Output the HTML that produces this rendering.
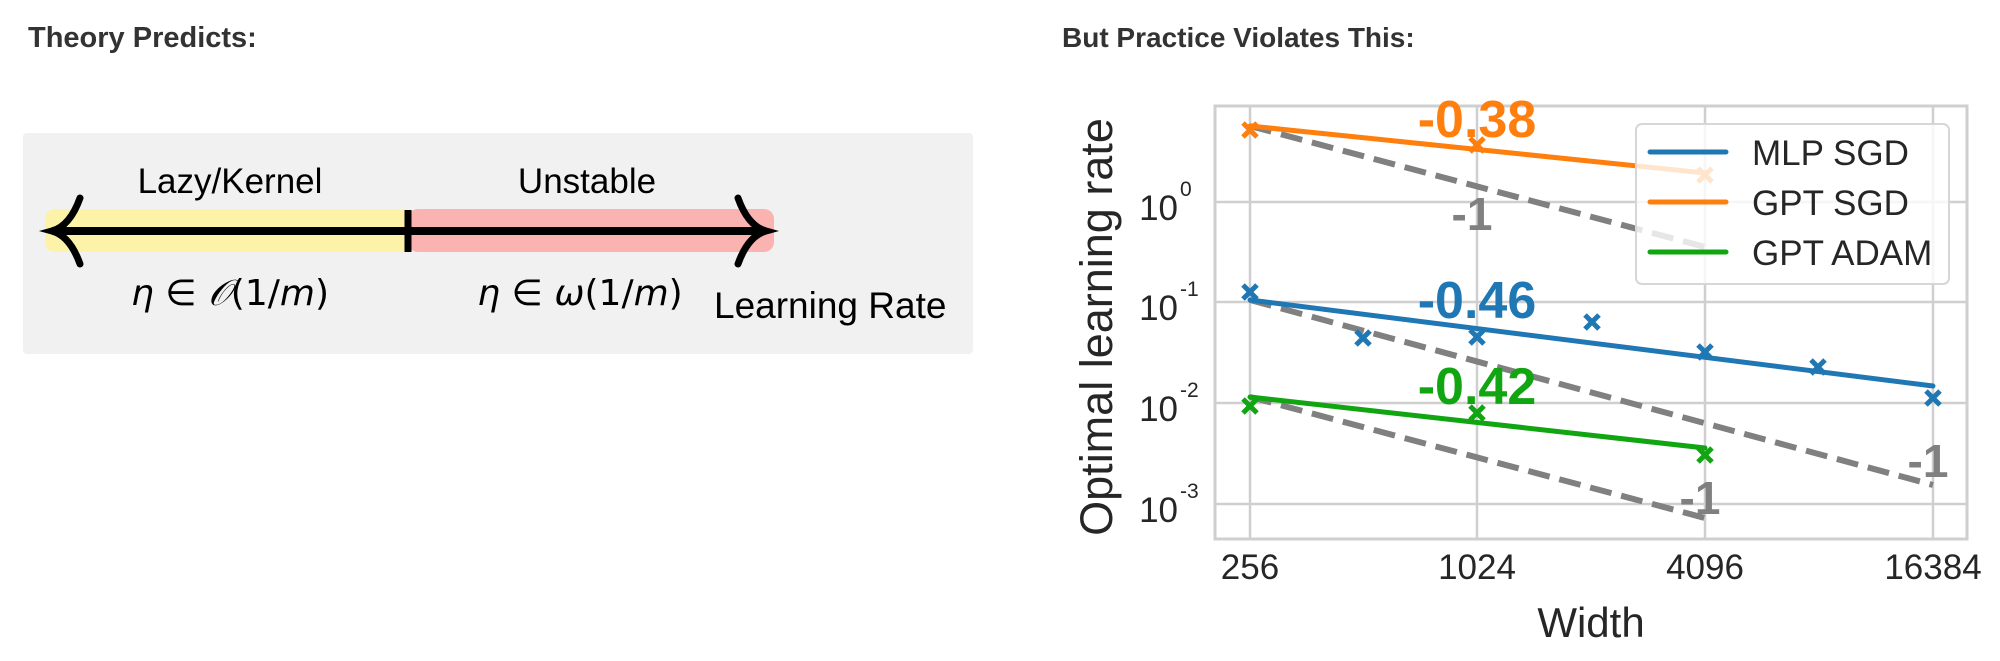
<!DOCTYPE html>
<html><head><meta charset="utf-8"><style>
html,body{margin:0;padding:0;background:#fff;}
svg{display:block;}
</style></head><body>
<svg width="2000" height="661" viewBox="0 0 2000 661" xmlns="http://www.w3.org/2000/svg" font-family="Liberation Sans, sans-serif">
<rect width="2000" height="661" fill="#fff"/>
<text x="28" y="47" font-size="29" font-weight="bold" fill="#333">Theory Predicts:</text>
<text x="1062" y="47" font-size="28" font-weight="bold" fill="#333">But Practice Violates This:</text>

<!-- left panel -->
<rect x="23" y="133" width="950" height="221" rx="4" fill="#f1f1f1"/>
<rect x="45" y="209" width="368" height="43" rx="10" fill="#fdf3a8"/>
<rect x="408" y="209" width="366" height="43" rx="10" fill="#fbb3b1"/>
<line x1="52" y1="231" x2="764" y2="231" stroke="#000" stroke-width="8"/>
<line x1="408" y1="210" x2="408" y2="252" stroke="#000" stroke-width="7"/>
<path d="M80 198 Q70 226 52 231 Q70 236 80 264" fill="none" stroke="#000" stroke-width="7" stroke-linecap="round"/>
<path d="M738 198 Q748 226 766 231 Q748 236 738 264" fill="none" stroke="#000" stroke-width="7" stroke-linecap="round"/>
<text x="230" y="193" font-size="35" text-anchor="middle" fill="#000">Lazy/Kernel</text>
<text x="587" y="193" font-size="35" text-anchor="middle" fill="#000">Unstable</text>
<text x="230" y="305" font-size="36" text-anchor="middle" fill="#000" font-family="DejaVu Sans, sans-serif"><tspan font-style="italic">η</tspan> ∈ <tspan font-style="italic">𝒪</tspan>(1/<tspan font-style="italic">m</tspan>)</text>
<text x="580" y="305" font-size="36" text-anchor="middle" fill="#000" font-family="DejaVu Sans, sans-serif"><tspan font-style="italic">η</tspan> ∈ <tspan font-style="italic">ω</tspan>(1/<tspan font-style="italic">m</tspan>)</text>
<text x="714" y="318" font-size="37" fill="#000">Learning Rate</text>

<!-- chart grid -->
<g stroke="#cfcfcf" stroke-width="2.5" fill="none">
<line x1="1250" y1="106" x2="1250" y2="539"/>
<line x1="1477" y1="106" x2="1477" y2="539"/>
<line x1="1705" y1="106" x2="1705" y2="539"/>
<line x1="1933" y1="106" x2="1933" y2="539"/>
<line x1="1215" y1="202" x2="1967" y2="202"/>
<line x1="1215" y1="302" x2="1967" y2="302"/>
<line x1="1215" y1="403" x2="1967" y2="403"/>
<line x1="1215" y1="504" x2="1967" y2="504"/>
<rect x="1215" y="106" width="752" height="433" stroke-width="3"/>
</g>

<!-- dashed -1 lines -->
<g stroke="#808080" stroke-width="6" stroke-dasharray="22,10" fill="none">
<line x1="1250" y1="126" x2="1705" y2="247"/>
<line x1="1250" y1="300" x2="1933" y2="485"/>
<line x1="1250" y1="397" x2="1705" y2="518"/>
</g>

<!-- fit lines -->
<g stroke-width="5" fill="none" stroke-linecap="round">
<line x1="1250" y1="126" x2="1705" y2="173" stroke="#ff7f0e"/>
<line x1="1250" y1="300" x2="1933" y2="386" stroke="#1f77b4"/>
<line x1="1250" y1="397" x2="1705" y2="448" stroke="#11a511"/>
</g>

<!-- markers -->
<g stroke-width="5" fill="none">
<g stroke="#ff7f0e">
<path d="M1243 123 l14 14 m0 -14 l-14 14"/>
<path d="M1470 138 l14 14 m0 -14 l-14 14"/>
<path d="M1698 168 l14 14 m0 -14 l-14 14"/>
</g>
<g stroke="#1f77b4">
<path d="M1243 285 l14 14 m0 -14 l-14 14"/>
<path d="M1356 331 l14 14 m0 -14 l-14 14"/>
<path d="M1470 330 l14 14 m0 -14 l-14 14"/>
<path d="M1585 315 l14 14 m0 -14 l-14 14"/>
<path d="M1698 345 l14 14 m0 -14 l-14 14"/>
<path d="M1811 360 l14 14 m0 -14 l-14 14"/>
<path d="M1926 391 l14 14 m0 -14 l-14 14"/>
</g>
<g stroke="#11a511">
<path d="M1243 399 l14 14 m0 -14 l-14 14"/>
<path d="M1470 406 l14 14 m0 -14 l-14 14"/>
<path d="M1698 448 l14 14 m0 -14 l-14 14"/>
</g>
</g>

<!-- slope labels -->
<g font-weight="bold" text-anchor="middle" font-size="52">
<text x="1477" y="137" fill="#ff7f0e">-0.38</text>
<text x="1477" y="318" fill="#1f77b4">-0.46</text>
<text x="1477" y="404" fill="#11a511">-0.42</text>
</g>
<g font-weight="bold" text-anchor="middle" font-size="46" fill="#808080">
<text x="1472" y="230">-1</text>
<text x="1928" y="477">-1</text>
<text x="1700" y="514">-1</text>
</g>

<!-- legend -->
<rect x="1636" y="124" width="313" height="160" rx="6" fill="#fff" fill-opacity="0.8" stroke="#d6d6d6" stroke-width="2"/>
<g stroke-width="5" stroke-linecap="round">
<line x1="1650" y1="152" x2="1726" y2="152" stroke="#1f77b4"/>
<line x1="1650" y1="202" x2="1726" y2="202" stroke="#ff7f0e"/>
<line x1="1650" y1="252" x2="1726" y2="252" stroke="#11a511"/>
</g>
<g font-size="35" fill="#262626">
<text x="1752" y="165">MLP SGD</text>
<text x="1752" y="215">GPT SGD</text>
<text x="1752" y="265">GPT ADAM</text>
</g>

<!-- axis ticks -->
<g font-size="35" fill="#262626" text-anchor="end">
<text x="1178" y="220">10</text>
<text x="1178" y="320">10</text>
<text x="1178" y="421">10</text>
<text x="1178" y="522">10</text>
</g>
<g font-size="21" fill="#262626">
<text x="1180" y="196">0</text>
<text x="1180" y="296">-1</text>
<text x="1180" y="397">-2</text>
<text x="1180" y="498">-3</text>
</g>
<g font-size="35" fill="#262626" text-anchor="middle">
<text x="1250" y="579">256</text>
<text x="1477" y="579">1024</text>
<text x="1705" y="579">4096</text>
<text x="1933" y="579">16384</text>
</g>
<text x="1591" y="637" font-size="42" fill="#262626" text-anchor="middle">Width</text>
<text transform="translate(1112 327) rotate(-90)" font-size="45" fill="#262626" text-anchor="middle">Optimal learning rate</text>
</svg>
</body></html>
